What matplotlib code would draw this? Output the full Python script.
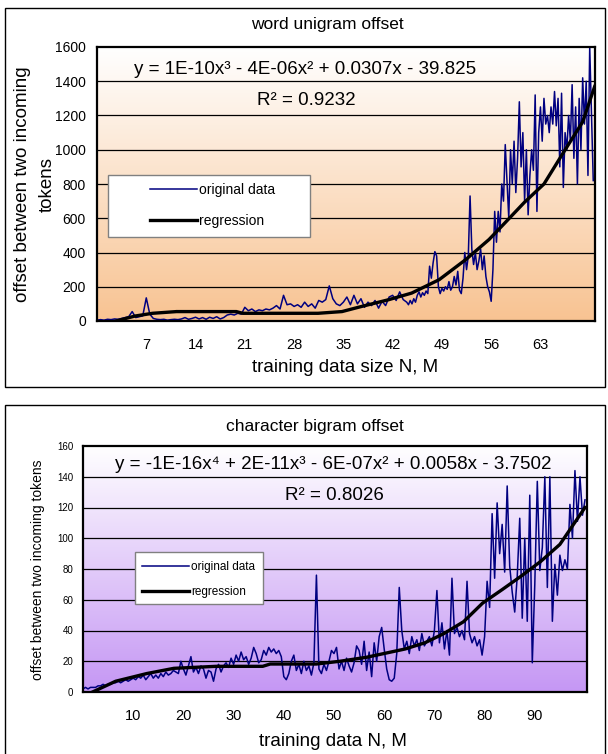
import numpy as np
import matplotlib
matplotlib.use("Agg")
import matplotlib.pyplot as plt
from matplotlib.patches import Rectangle
from matplotlib.colors import LinearSegmentedColormap

plt.rcParams['font.family'] = ['Liberation Sans Narrow', 'Liberation Sans', 'DejaVu Sans']

# ---------------- data: word unigram offset ----------------
word_x = np.concatenate([np.arange(0, 44.01, 0.5), np.arange(44.25, 70.51, 0.25)])
word_y = [
    5, 8, 5, 10, 8, 12, 10, 15,
    20, 25, 55, 20, 25, 30, 135, 40,
    15, 10, 8, 10, 5, 8, 10, 8,
    12, 20, 10, 15, 22, 12, 20, 10,
    22, 15, 25, 12, 20, 35, 40, 35,
    45, 40, 80, 60, 70, 55, 65, 60,
    70, 65, 75, 90, 70, 150, 95, 100,
    85, 95, 80, 110, 85, 100, 75, 120,
    110, 125, 205, 130, 100, 90, 110, 140,
    95, 150, 100, 130, 80, 110, 90, 120,
    75, 115, 90, 140, 150, 120, 170, 125,
    110,
    95, 120, 100, 130, 110, 150, 170, 140,
    165, 150, 175, 160, 320, 250, 340, 405,
    380, 200, 160, 190, 175, 200, 185, 230,
    180, 200, 260, 210, 290, 180, 160, 250,
    400, 300, 380, 730, 420, 330, 400, 300,
    350, 420, 300, 380, 260, 200, 170, 115,
    300, 640, 460, 640, 520, 800, 700, 1030,
    820, 600, 1000, 800, 1050, 750, 950, 1280,
    900, 1100, 700, 1000, 620, 850, 1000, 880,
    1320, 640, 1100, 1250, 1050, 1300, 1150, 1200,
    1100, 1250, 1150, 1340, 1140, 1300, 900, 1330,
    780, 1100, 1000, 1200, 1050, 1380, 950, 1250,
    800, 1300, 1000, 1420, 1150, 1400, 850, 1600,
    1200, 820,
]
word_reg_x = [2.7, 5.4, 7.9, 11.3, 19.8, 20.7, 31.4, 34.8, 37.5, 41.4,
              44.7, 48.6, 52.4, 55.7, 58.0, 60.7, 63.5, 66.3, 69.0, 70.7]
word_reg_y = [0, 29, 45, 55, 55, 45, 45, 55, 84, 124,
              163, 241, 359, 476, 575, 692, 800, 986, 1163, 1369]
word_xticks = [7, 14, 21, 28, 35, 42, 49, 56, 63]
word_yticks = [0, 200, 400, 600, 800, 1000, 1200, 1400, 1600]

# ---------------- data: character bigram offset ----------------
char_x = np.arange(0, 100.01, 0.5)
char_y = [
    2, 3, 2, 3, 3, 3, 4, 4,
    5, 4, 5, 5, 6, 6, 7, 6,
    7, 8, 7, 8, 9, 8, 10, 9,
    11, 8, 10, 12, 9, 11, 9, 12,
    10, 13, 11, 12, 14, 13, 12, 20,
    15, 11, 17, 23, 13, 16, 12, 17,
    15, 9, 14, 13, 7, 15, 18, 13,
    17, 19, 16, 22, 18, 24, 20, 26,
    21, 23, 18, 22, 29, 25, 19, 21,
    27, 24, 29, 26, 28, 25, 27, 23,
    10, 8, 12, 20, 24, 14, 18, 12,
    20, 14, 17, 11, 19, 76, 15, 12,
    18, 14, 20, 27, 25, 29, 15, 20,
    14, 22, 17, 13, 19, 30, 27, 18,
    33, 14, 26, 10, 32, 20, 36, 42,
    28, 15, 8, 7, 9, 25, 68, 40,
    28, 33, 25, 36, 30, 34, 27, 38,
    30, 33, 36, 30, 40, 66, 32, 45,
    28, 40, 24, 74, 38, 42, 36, 40,
    34, 72, 38, 32, 36, 30, 34, 24,
    36, 72, 55, 116, 74, 123, 90, 109,
    78, 134, 82, 65, 52, 75, 113, 48,
    100, 46, 128, 19, 70, 137, 79, 94,
    140, 68, 140, 46, 83, 63, 89, 79,
    86, 80, 122, 100, 144, 111, 140, 115,
    125,
]
char_reg_x = [1.9, 6.5, 12.7, 18.1, 26.5, 35.8, 37.3, 46.5, 51.2, 56.5,
              64.2, 68.1, 71.9, 75.8, 79.6, 83.5, 87.3, 91.2, 95.0, 100.0]
char_reg_y = [0, 7, 12, 15.4, 16.7, 16.7, 18.2, 18.2, 20, 22.6,
              28, 32, 38, 45.7, 57.8, 66.6, 75.4, 85, 96, 120]
char_xticks = [10, 20, 30, 40, 50, 60, 70, 80, 90]
char_yticks = [0, 20, 40, 60, 80, 100, 120, 140, 160]

NAVY = '#000080'

W, H = 608, 754
fig = plt.figure(figsize=(W / 100, H / 100), dpi=100)


def fx(px):
    return px / W


def fy(py):
    return 1 - py / H


# outer frames
fig.patches.append(Rectangle((fx(5), fy(387)), fx(600), 379 / H, transform=fig.transFigure,
                             fill=False, edgecolor='black', linewidth=1.0))
fig.patches.append(Rectangle((fx(5), fy(760)), fx(600), 355 / H, transform=fig.transFigure,
                             fill=False, edgecolor='black', linewidth=1.0))


def gradient(ax, top_color, bottom_color, xlim, ylim):
    cmap = LinearSegmentedColormap.from_list('g', [bottom_color, top_color])
    grad = np.linspace(0, 1, 256).reshape(-1, 1)
    ax.imshow(grad, cmap=cmap, origin='lower', aspect='auto',
              extent=[xlim[0], xlim[1], ylim[0], ylim[1]], zorder=0)


def style_axes(ax, xlim, ylim, xticks, yticks, ytick_size, xtick_size, xpad, ypad):
    ax.set_xlim(*xlim)
    ax.set_ylim(*ylim)
    ax.set_xticks(xticks)
    ax.set_yticks(yticks)
    ax.tick_params(axis='x', length=0, pad=xpad, labelsize=xtick_size)
    ax.tick_params(axis='y', length=0, pad=ypad, labelsize=ytick_size)
    for y in yticks[1:-1]:
        ax.axhline(y, color='black', linewidth=0.9, zorder=1)
    for s in ax.spines.values():
        s.set_linewidth(1.6)
        s.set_color('black')
        s.set_zorder(10)


def legend_box(ax, handles, box, anchor, fontsize, handlelength, labelspacing):
    x0, y0, x1, y1 = box
    ax.add_patch(Rectangle((x0, y0), x1 - x0, y1 - y0, facecolor='white',
                           edgecolor='#808080', linewidth=1.0, zorder=7))
    leg = ax.legend(handles=handles, loc='upper left', bbox_to_anchor=anchor,
                    fontsize=fontsize, handlelength=handlelength, handletextpad=0.15,
                    labelspacing=labelspacing, borderpad=0, borderaxespad=0,
                    frameon=False)
    leg.set_zorder(8)
    return leg


# ---------------- top chart ----------------
ax1 = fig.add_axes([fx(97), fy(321), fx(498), 274 / H])
xl1, yl1 = (0, 70.75), (0, 1600)
gradient(ax1, '#FFFFFF', '#F8C392', xl1, yl1)
style_axes(ax1, xl1, yl1, word_xticks, word_yticks, 10, 10.5, 12, 8)
l1, = ax1.plot(word_x, word_y, color=NAVY, linewidth=1.1, zorder=3, label='original data')
r1, = ax1.plot(word_reg_x, word_reg_y, color='black', linewidth=2.4, zorder=4, label='regression')
ax1.text(29.6, 1466, 'y = 1E-10x³ - 4E-06x² + 0.0307x - 39.825', ha='center', va='center',
         fontsize=13.5, zorder=6)
ax1.text(29.7, 1286, 'R² = 0.9232', ha='center', va='center', fontsize=13.5, zorder=6)
legend_box(ax1, [l1, r1], (1.6, 488, 30.2, 855), ((150 - 97) / 498, (321 - 183) / 274),
           10, 3.4, 1.2)

fig.text(fx(327), fy(24), 'word unigram offset', ha='center', va='center', fontsize=12.5)
fig.text(fx(345), fy(368), 'training data size N, M', ha='center', va='center', fontsize=13.5)
fig.text(fx(35), fy(184), 'offset between two incoming\ntokens', ha='center', va='center',
         rotation=90, fontsize=13.5, multialignment='center', linespacing=1.55)

# ---------------- bottom chart ----------------
ax2 = fig.add_axes([fx(83), fy(692), fx(504), 246 / H])
xl2, yl2 = (0, 100.4), (0, 160)
gradient(ax2, '#FFFFFF', '#C597F4', xl2, yl2)
style_axes(ax2, xl2, yl2, char_xticks, char_yticks, 7, 10.5, 12, 7)
l2, = ax2.plot(char_x, char_y, color=NAVY, linewidth=1.1, zorder=3, label='original data')
r2, = ax2.plot(char_reg_x, char_reg_y, color='black', linewidth=2.4, zorder=4, label='regression')
ax2.text(49.8, 148, 'y = -1E-16x⁴ + 2E-11x³ - 6E-07x² + 0.0058x - 3.7502', ha='center',
         va='center', fontsize=13.5, zorder=6)
ax2.text(50, 128, 'R² = 0.8026', ha='center', va='center', fontsize=13.5, zorder=6)
legend_box(ax2, [l2, r2], (10.4, 57.4, 35.9, 90.8), ((142 - 83) / 504, (692 - 561) / 246),
           8.5, 4.0, 1.1)

fig.text(fx(315), fy(426), 'character bigram offset', ha='center', va='center', fontsize=12.5)
fig.text(fx(333), fy(742), 'training data N, M', ha='center', va='center', fontsize=13.5)
fig.text(fx(38), fy(570), 'offset between two incoming tokens', ha='center', va='center',
         rotation=90, fontsize=10)

fig.savefig('out.png', dpi=100)
